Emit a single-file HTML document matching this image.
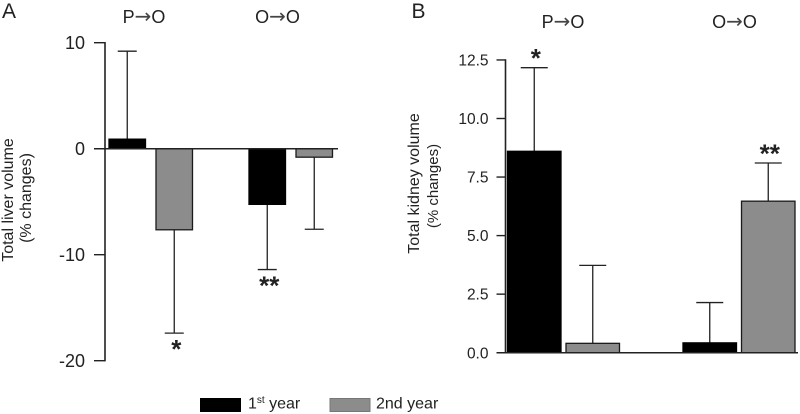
<!DOCTYPE html>
<html lang="en">
<head>
<meta charset="utf-8">
<title>Total liver and kidney volume changes</title>
<style>
html,body{margin:0;padding:0;background:#fff;}
#chart{display:block;width:800px;height:414px;}
text{font-family:"Liberation Sans",Arial,sans-serif;fill:#222;}
tspan.arrow{font-family:"DejaVu Sans",sans-serif;font-size:20px;fill:#444;}
</style>
</head>
<body>
<svg id="chart" xmlns="http://www.w3.org/2000/svg" width="800" height="414" viewBox="0 0 800 414">
  <text x="2" y="18" font-size="21">A</text>
  <text x="411.5" y="18" font-size="21">B</text>
  <text x="144" y="23" font-size="18" text-anchor="middle">P<tspan class="arrow">→</tspan>O</text>
  <text x="277.5" y="23" font-size="18" text-anchor="middle">O<tspan class="arrow">→</tspan>O</text>
  <text x="563" y="28" font-size="18" text-anchor="middle">P<tspan class="arrow">→</tspan>O</text>
  <text x="734.5" y="28" font-size="18" text-anchor="middle">O<tspan class="arrow">→</tspan>O</text>
  <text transform="translate(13,200) rotate(-90)" font-size="16" text-anchor="middle">Total liver volume</text>
  <text transform="translate(31,198) rotate(-90)" font-size="16" text-anchor="middle">(% changes)</text>
  <text transform="translate(419,183.5) rotate(-90)" font-size="16" text-anchor="middle">Total kidney volume</text>
  <text transform="translate(438,186) rotate(-90)" font-size="15" text-anchor="middle">(% changes)</text>
  <g id="panel-a"></g>
  <g id="panel-b"></g>
  <rect x="200" y="398" width="41" height="14" fill="#000"/>
  <text x="248" y="408.5" font-size="16">1<tspan font-size="10" dy="-5.5">st</tspan><tspan dy="5.5"> year</tspan></text>
  <rect x="330" y="398.5" width="40" height="13" fill="#8c8c8c" stroke="#777" stroke-width="1"/>
  <text x="376" y="408.5" font-size="16">2nd year</text>
</svg>
<script>
const liverTicks = [10, 0, -10, -20];
const liverTickLabels = ["10", "0", "-10", "-20"];
const liverMeans = [0.9, -7.65, -5.25, -0.8];
const liverErrorEnds = [9.2, -17.4, -11.4, -7.6];
const liverStars = ["", "*", "**", ""];

const kidneyTicks = [12.5, 10, 7.5, 5, 2.5, 0];
const kidneyTickLabels = ["12.5", "10.0", "7.5", "5.0", "2.5", "0.0"];
const kidneyMeans = [8.6, 0.4, 0.42, 6.47];
const kidneyErrorEnds = [12.17, 3.73, 2.14, 8.1];
const kidneyStars = ["*", "", "", "**"];

const NS = "http://www.w3.org/2000/svg";
const INK = "#222";
const GRAY = "#8c8c8c";

function make(parent, tag, attrs) {
  const el = document.createElementNS(NS, tag);
  for (const k in attrs) el.setAttribute(k, attrs[k]);
  parent.appendChild(el);
  return el;
}

function yLiver(v) { return 148.7 - v * 10.6; }
function xLiver(i) { return 109 + Math.floor(i / 2) * 140 + (i % 2) * 47; }
function yKidney(v) { return 352.7 - v * 23.42; }
function xKidney(i) { return 507.5 + Math.floor(i / 2) * 175.5 + (i % 2) * 58.5; }

function drawPanel(root, opt) {
  const y = opt.y, x = opt.x;

  const axis = make(root, "line", {x1: opt.axisX, x2: opt.axisX, y1: y(opt.ticks[0]) - 0.7, y2: y(opt.ticks[opt.ticks.length - 1]) + 0.7, stroke: INK, "stroke-width": 1.6});
  
  

  opt.ticks.forEach(function (t, i) {
    const tick = make(root, "line", {x1: opt.axisX - opt.tickLen, x2: opt.axisX, y1: y(t), y2: y(t), stroke: INK, "stroke-width": 1.4});
    
    
    const label = make(root, "text", {x: opt.axisX - opt.tickLen - opt.labelGap, y: y(t) + opt.labelSize * 0.36, "font-size": opt.labelSize, "text-anchor": "end"});
    label.textContent = opt.labels[i];
    
    
  });

  opt.means.forEach(function (m, i) {
    const left = x(i);
    const cx = left + opt.barW / 2;
    const end = opt.ends[i];
    const barEdge = y(m);

    const err = make(root, "line", {x1: cx, x2: cx, y1: barEdge, y2: y(end), stroke: INK, "stroke-width": 1.3});
    
    
    const cap = make(root, "line", {x1: cx - opt.capW, x2: cx + opt.capW, y1: y(end), y2: y(end), stroke: INK, "stroke-width": 1.3});
    
    

    const top = Math.min(y(0), barEdge);
    const h = Math.abs(y(0) - barEdge);
    const bar = make(root, "rect", {x: left, y: top, width: opt.barW, height: h, fill: i % 2 ? GRAY : "#000", stroke: i % 2 ? "#1a1a1a" : "#000", "stroke-width": 1.3});
    
    

    if (opt.stars[i]) {
      const below = end < 0;
      const star = make(root, "text", {x: cx + (below ? 2 : 1.5), y: below ? y(end) + 25 : y(end) - 0.5, "font-size": 26, "font-weight": "bold", "text-anchor": "middle", fill: "#111"});
      star.textContent = opt.stars[i];
      
      
    }
  });

  const base = make(root, "line", {x1: opt.axisX - opt.tickLen, x2: opt.baseEnd, y1: y(0), y2: y(0), stroke: INK, "stroke-width": 1.5});
  
  
}

drawPanel(document.getElementById("panel-a"), {
  y: yLiver, x: xLiver, axisX: 105, tickLen: 11, labelGap: 9, labelSize: 18,
  ticks: liverTicks, labels: liverTickLabels, means: liverMeans, ends: liverErrorEnds,
  stars: liverStars, barW: 36.5, capW: 9.5, baseEnd: 338
});
drawPanel(document.getElementById("panel-b"), {
  y: yKidney, x: xKidney, axisX: 505.5, tickLen: 9, labelGap: 8, labelSize: 15.5,
  ticks: kidneyTicks, labels: kidneyTickLabels, means: kidneyMeans, ends: kidneyErrorEnds,
  stars: kidneyStars, barW: 53.5, capW: 13.5, baseEnd: 798
});
</script>
</body>
</html>
